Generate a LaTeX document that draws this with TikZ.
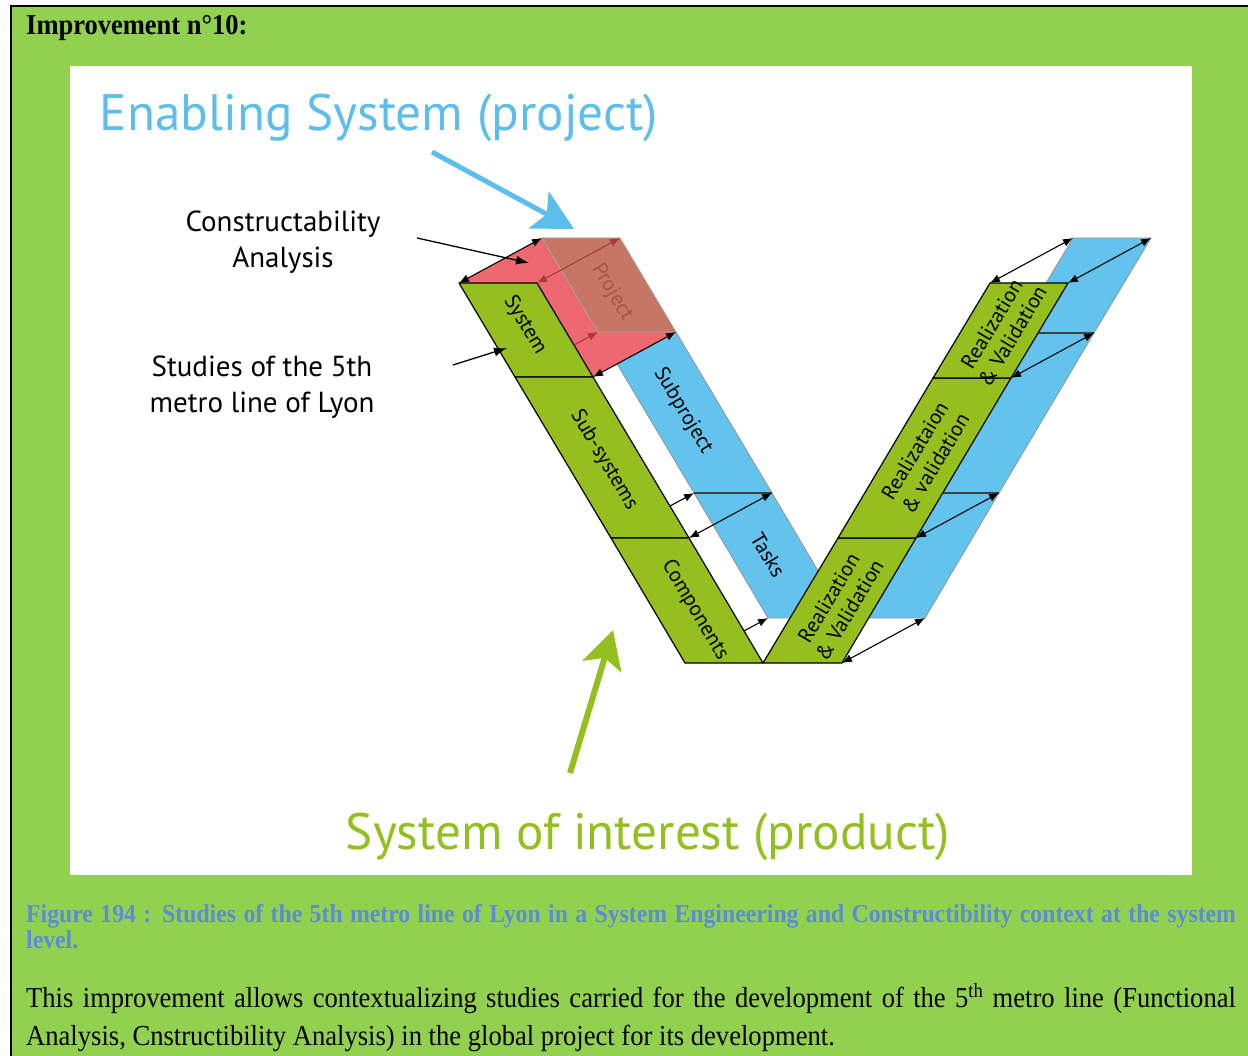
\documentclass[tikz,border=0pt]{standalone}
\usepackage{fontspec}
\setmainfont{Liberation Serif}
\newfontfamily\myr{PT Sans}
\usetikzlibrary{arrows.meta,calc}
\definecolor{pagegreen}{RGB}{146,208,80}
\definecolor{vgreen}{RGB}{148,191,31}
\definecolor{vblue}{RGB}{99,195,237}
\definecolor{ttlblue}{RGB}{93,190,236}
\definecolor{ttlgreen}{RGB}{148,192,31}
\definecolor{pinkf}{RGB}{237,104,113}
\definecolor{brownf}{RGB}{199,117,100}
\definecolor{projtxt}{RGB}{160,86,74}
\definecolor{capblue}{RGB}{91,140,214}
\definecolor{darkred}{RGB}{165,62,52}
\begin{document}
\begin{tikzpicture}[x=1pt,y=-1pt,
  gface/.style={fill=vgreen,draw=black,line width=1.2pt,line join=round},
  bface/.style={fill=vblue,draw=black!40,line width=0.9pt,line join=round},
  bdiv/.style={draw=black!75,line width=1.1pt},
  dimboth/.style={draw=black,line width=1.1pt,{Latex[length=10pt,width=8pt]}-{Latex[length=10pt,width=8pt]}},
  dimone/.style={draw=black,line width=1.1pt,-{Latex[length=10pt,width=8pt]}},
  slbl/.style={font=\myr\fontsize{21}{24}\selectfont,align=center,inner sep=0pt},
  biglbl/.style={font=\myr\fontsize{29}{36}\selectfont,align=center,inner sep=0pt},
  serif/.style={inner sep=0pt,anchor=base west},
  callout/.style={draw=black,line width=1.3pt,-{Latex[length=13pt,width=9pt]}},
]
\useasboundingbox (0,0) rectangle (1248,1056);
\fill[white] (0,0) rectangle (1248,1056);
\fill[pagegreen] (11,6) rectangle (1248,1056);
\draw[line width=2.5pt] (11,1056) -- (11,6) -- (1248,6);
\fill[white] (70,66) rectangle (1192,875);

% green V corners
\coordinate (L0o) at (459,283); \coordinate (L0i) at (537,283);
\coordinate (L1o) at (515,377); \coordinate (L1i) at (593,377);
\coordinate (L2o) at (611,538); \coordinate (L2i) at (689,538);
\coordinate (Bo) at (685,663);  \coordinate (Bm) at (763,663);
\coordinate (R3o) at (842,663);
\coordinate (R2i) at (838,538); \coordinate (R2o) at (916,538);
\coordinate (R1i) at (933,378); \coordinate (R1o) at (1011,378);
\coordinate (R0i) at (990,283); \coordinate (R0o) at (1068,283);
\foreach \c in {L0o,L0i,L1o,L1i,L2o,L2i,Bo,Bm,R3o,R2i,R2o,R1i,R1o,R0i,R0o}
  \coordinate (b\c) at ($(\c)+(83,-45)$);

% blue strip (enabling system)
\path[bface] (bL1o)--(bL1i)--(bL2i)--(bL2o)--cycle;
\path[bface] (bL2o)--(bL2i)--(bBm)--(bBo)--cycle;
\path[bface] (bBm)--(bR3o)--(bR2o)--(bR2i)--cycle;
\path[bface] (bR2i)--(bR2o)--(bR1o)--(bR1i)--cycle;
\path[bface] (bR1i)--(bR1o)--(bR0o)--(bR0i)--cycle;
\draw[bdiv] (bL2o)--(bL2i);
\draw[bdiv] (bR2i)--(bR2o);
\draw[bdiv] (bR1i)--(bR1o);

% red constructability box
\fill[pinkf] (L0o)--(L0i)--(bL0i)--(bL0o)--cycle;
\fill[pinkf] (L0i)--(bL0i)--(bL1i)--(L1i)--cycle;
\path[fill=brownf,draw=black!35,line width=0.8pt] (bL0o)--(bL0i)--(bL1i)--(bL1o)--cycle;

% hidden depth arrows
\draw[dimone,draw=darkred] (L1o) -- (bL1o);
\draw[dimone] (L2o) -- (bL2o);
\draw[dimone] (Bo) -- (bBo);

% green strip (system of interest)
\path[gface] (L0o)--(L0i)--(L1i)--(L1o)--cycle;
\path[gface] (L1o)--(L1i)--(L2i)--(L2o)--cycle;
\path[gface] (L2o)--(L2i)--(Bm)--(Bo)--cycle;
\path[gface] (Bm)--(R3o)--(R2o)--(R2i)--cycle;
\path[gface] (R2i)--(R2o)--(R1o)--(R1i)--cycle;
\path[gface] (R1i)--(R1o)--(R0o)--(R0i)--cycle;

% visible depth arrows
\draw[dimboth] (L0o) -- (bL0o);
\draw[dimboth,draw=darkred] (L0i) -- (bL0i);
\draw[dimboth] (L1i) -- (bL1i);
\draw[dimboth] (L2i) -- (bL2i);
\draw[dimboth] (R0i) -- (bR0i);
\draw[dimboth] (R0o) -- (bR0o);
\draw[dimboth] (R1o) -- (bR1o);
\draw[dimboth] (R2o) -- (bR2o);
\draw[dimboth] (R3o) -- (bR3o);

% strip labels
\node[slbl,rotate=-59.2] (tsys) at (525,325) {System};
\node[slbl,rotate=-59.2] (tsub) at (604,460) {Sub-systems};
\node[slbl,rotate=-59.2] (tcomp) at (695,610) {Components};
\node[slbl,rotate=-59.2,text=projtxt] (tproj) at (612,292) {Project};
\node[slbl,rotate=-59.2] (tsubp) at (683,411) {Subproject};
\node[slbl,rotate=-59.2] (ttask) at (768,555) {Tasks};
\node[slbl,rotate=59.2] (trv1) at (1002,330) {Realization\\\& Validation};
\node[slbl,rotate=59.2] (trv2) at (925,457) {Realizataion\\\& validation};
\node[slbl,rotate=59.2] (trv3) at (839,604) {Realization\\\& Validation};

% side labels and callouts
\node[biglbl] (cons) at (283,242) {Constructability\\Analysis};
\node[biglbl] (stud) at (262,387) {Studies of the 5th\\metro line of Lyon};
\coordinate (a1s) at (417,238); \coordinate (a1e) at (529,263);
\coordinate (a2s) at (453,365); \coordinate (a2e) at (507,348);
\draw[callout] (a1s) -- (a1e);
\draw[callout] (a2s) -- (a2e);

% titles and big arrows
\node[inner sep=0pt,text=ttlblue] (enab) at (379,118) {\resizebox{558pt}{!}{\myr Enabling System (project)}};
\node[inner sep=0pt,text=ttlgreen] (soi) at (648,837) {\resizebox{604pt}{!}{\myr System of interest (product)}};
\coordinate (ea1) at (432,152); \coordinate (ea2) at (574,229);
\draw[ttlblue,line width=5pt,-{Stealth[length=40pt,width=42pt,inset=9pt]}] (ea1) -- (ea2);
\coordinate (ga1) at (570,773); \coordinate (ga2) at (613,630);
\draw[ttlgreen,line width=6pt,-{Stealth[length=38pt,width=40pt,inset=9pt]}] (ga1) -- (ga2);

% document text
\node[serif] (title) at (26,35) {\scalebox{0.92}[1]{\bfseries\fontsize{28.8}{30}\selectfont Improvement n°10:}};
\node[serif,text=capblue] (cap1) at (26,922) {\scalebox{0.92}[1]{\bfseries\fontsize{25.8}{28}\selectfont\makebox[1315pt][s]{Figure 194 : Studies of the 5th metro line of Lyon in a System Engineering and Constructibility context at the system}}};
\node[serif,text=capblue] (cap2) at (26,948) {\scalebox{0.92}[1]{\bfseries\fontsize{25.8}{28}\selectfont level.}};
\node[serif] (body1) at (26,1007) {\scalebox{0.92}[1]{\fontsize{28.9}{30}\selectfont\makebox[1315pt][s]{This improvement allows contextualizing studies carried for the development of the 5\textsuperscript{th} metro line (Functional}}};
\node[serif] (body2) at (26,1045) {\scalebox{0.92}[1]{\fontsize{28.9}{30}\selectfont Analysis, Cnstructibility Analysis) in the global project for its development.}};
\end{tikzpicture}
\end{document}
